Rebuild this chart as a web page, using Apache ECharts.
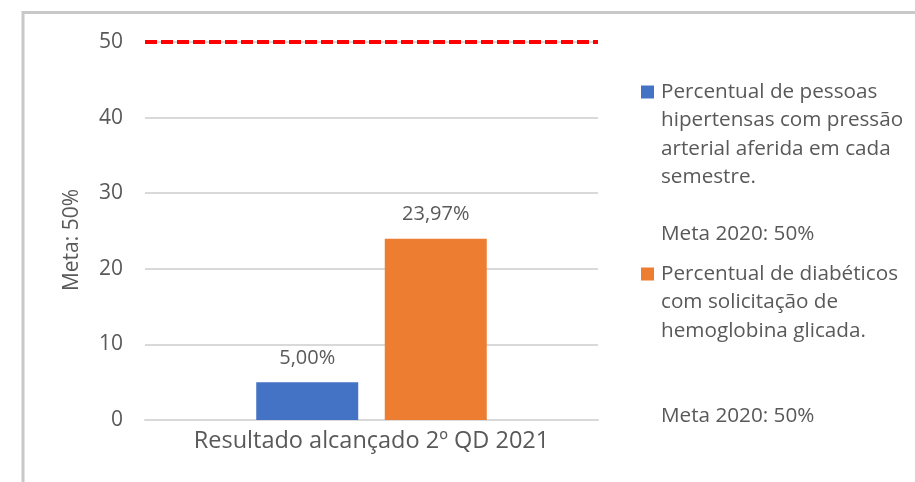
<!DOCTYPE html>
<html>
<head>
<meta charset="utf-8">
<script src="https://cdn.jsdelivr.net/npm/echarts@6/dist/echarts.min.js"></script>
<style>
  html, body { margin: 0; padding: 0; background: #fff; }
  #myChart { width: 915px; height: 482px; }
</style>
</head>
<body>
<div id="myChart"></div>
<script>
// dados do gráfico
var categorias = ['Resultado alcançado 2º QD 2021']
var nomesSeries = [
  'Percentual de pessoas hipertensas com pressão arterial aferida em cada semestre.',
  'Percentual de diabéticos com solicitação de hemoglobina glicada.'
]
var hipertensos = [5.00]
var diabeticos = [23.97]
var meta = [50]
var legenda1 = ['Percentual de pessoas', 'hipertensas com pressão', 'arterial aferida em cada', 'semestre.', '', 'Meta 2020: 50%']
var legenda2 = ['Percentual de diabéticos', 'com solicitação de', 'hemoglobina glicada.', '', '', 'Meta 2020: 50%']
var nomeEixoY = 'Meta: 50%'

var texto = '#595959'
var fonte = '"Open Sans", sans-serif'
var alturaLinha = 28.5

// legenda com o quadrado alinhado à primeira linha do texto
function legenda (nome, linhas, centroIcone) {
  var n = linhas.length
  return {
    data: [nome],
    orient: 'vertical',
    left: 641,
    top: centroIcone - (2 * n - 1) * alturaLinha / 2,
    padding: 0,
    icon: 'rect',
    itemWidth: 13,
    itemHeight: 13,
    selectedMode: false,
    formatter: function () { return linhas.join('\n') },
    textStyle: {
      color: texto,
      fontFamily: fonte,
      fontSize: 20.7,
      lineHeight: alturaLinha,
      padding: [(n - 1) * alturaLinha, 0, 0, 2],
      rich: { x: {} }
    }
  }
}

function rotulo (p) {
  return p.value.toFixed(2).replace('.', ',') + '%'
}

var myChart = echarts.init(document.getElementById('myChart'))
myChart.setOption({
  animation: false,
  textStyle: { fontFamily: fonte },
  graphic: [{
    type: 'rect',
    shape: { x: 23, y: 12.5, width: 1000, height: 1000 },
    style: { fill: 'none', stroke: '#C8C8C8', lineWidth: 3 },
    silent: true
  }],
  grid: { left: 145, right: 317, top: 42, bottom: 62 },
  legend: [
    legenda(nomesSeries[0], legenda1, 92),
    legenda(nomesSeries[1], legenda2, 274)
  ],
  xAxis: {
    type: 'category',
    data: categorias,
    axisLine: { show: true, lineStyle: { color: '#D9D9D9', width: 2 } },
    axisTick: { show: false },
    axisLabel: { color: texto, fontSize: 23.5, margin: 9 }
  },
  yAxis: {
    type: 'value',
    min: 0,
    max: 50,
    interval: 10,
    name: nomeEixoY,
    nameLocation: 'middle',
    nameGap: 62,
    nameTextStyle: { color: texto, fontSize: 21, padding: [0, 18, 0, 0] },
    axisLine: { show: false },
    axisTick: { show: false },
    axisLabel: { color: texto, fontSize: 21, margin: 22 },
    splitLine: { lineStyle: { color: '#D9D9D9', width: 2 } }
  },
  series: [
    {
      name: nomesSeries[0],
      type: 'bar',
      data: hipertensos,
      barWidth: 102,
      barGap: '26%',
      itemStyle: { color: '#4472C4' },
      label: { show: true, position: 'top', distance: 14, color: texto, fontSize: 20, formatter: rotulo },
      markLine: {
        silent: true,
        symbol: 'none',
        label: { show: false },
        lineStyle: { color: '#FF0000', type: [12, 4], width: 4 },
        data: [{ yAxis: meta[0] }]
      }
    },
    {
      name: nomesSeries[1],
      type: 'bar',
      data: diabeticos,
      barWidth: 102,
      itemStyle: { color: '#ED7D31' },
      label: { show: true, position: 'top', distance: 14, color: texto, fontSize: 20, formatter: rotulo }
    }
  ]
})
</script>
</body>
</html>
